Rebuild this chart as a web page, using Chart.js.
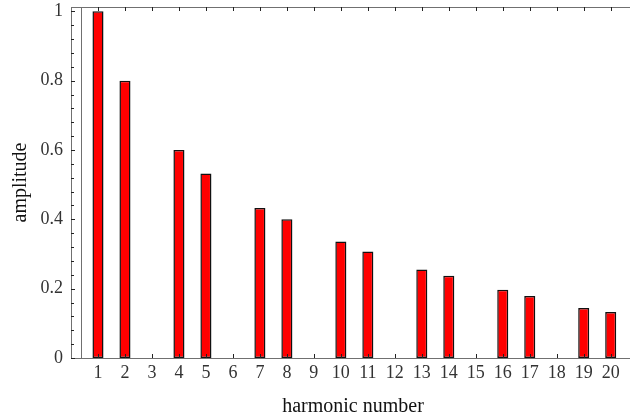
<!DOCTYPE html>
<html>
<head>
<meta charset="utf-8">
<script src="https://cdn.jsdelivr.net/npm/chart.js@4.4.0/dist/chart.umd.min.js"></script>
<style>
  html, body { margin: 0; padding: 0; background: #fff; overflow: hidden; }
  #wrap { width: 630px; height: 418px; overflow: hidden; }
</style>
</head>
<body>
<div id="wrap"><canvas id="myChart" width="640" height="418"></canvas></div>
<script>

/* =====================
  data
===================== */

var harmonics = [1, 2, 3, 4, 5, 6, 7, 8, 9, 10, 11, 12, 13, 14, 15, 16, 17, 18, 19, 20];
var amplitudes = [1, 0.8, 0, 0.6, 0.532, 0, 0.433, 0.4, 0, 0.336, 0.307, 0, 0.255, 0.237, 0, 0.197, 0.179, 0, 0.144, 0.133];
var yTicks = [0, 0.2, 0.4, 0.6, 0.8, 1];
var yMinorStep = 0.04;

var serif = '"Liberation Serif", "Times New Roman", serif';

/* =====================
  frame + tick marks (mathematica style)
===================== */

var framePlugin = {
	id: 'frame',
	afterDatasetsDraw: function(chart) {
		var ctx = chart.ctx;
		var a = chart.chartArea;
		var xs = chart.scales.x;
		var ys = chart.scales.y;

		ctx.save();
		ctx.lineWidth = 1;
		ctx.strokeStyle = '#707070';
		ctx.strokeRect(Math.round(a.left) + 0.5, Math.round(a.top) + 0.5,
			Math.round(a.right - a.left), Math.round(a.bottom - a.top));

		// inner axis line near the left side
		var ax = Math.round(xs.getPixelForValue(0.36)) + 0.5;
		ctx.beginPath();
		ctx.moveTo(ax, a.top);
		ctx.lineTo(ax, a.bottom);
		ctx.stroke();

		ctx.strokeStyle = '#222';
		ctx.beginPath();
		// bottom + top ticks
		harmonics.forEach(function(h) {
			var px = Math.round(xs.getPixelForValue(h)) + 0.5;
			ctx.moveTo(px, a.bottom);
			ctx.lineTo(px, a.bottom - 4);
			ctx.moveTo(px, a.top);
			ctx.lineTo(px, a.top + 4);
		});
		// left ticks, major and minor
		var n = Math.round(yTicks[yTicks.length - 1] / yMinorStep);
		for (var i = 0; i <= n; i++) {
			var v = i * yMinorStep;
			var py = Math.round(ys.getPixelForValue(v)) + 0.5;
			var len = (i % 5 === 0) ? 4 : 3;
			ctx.moveTo(a.left, py);
			ctx.lineTo(a.left + len, py);
		}
		ctx.stroke();
		ctx.restore();
	}
};

/* =====================
  chart
===================== */

var config = {
	type: 'bar',
	data: {
		datasets: [{
			label: 'amplitude',
			data: harmonics.map(function(h, i) { return { x: h, y: amplitudes[i] }; }),
			backgroundColor: '#ff0000',
			borderColor: '#111111',
			borderWidth: 1.5,
			borderSkipped: false,
			barPercentage: 0.41,
			categoryPercentage: 1
		}]
	},
	options: {
		responsive: false,
		animation: false,
		layout: {
			padding: { top: 7, right: 5, left: 0, bottom: 0 }
		},
		plugins: {
			legend: { display: false },
			tooltip: { enabled: false }
		},
		scales: {
			x: {
				type: 'linear',
				offset: false,
				min: 0,
				max: 20.9,
				grid: { display: false, drawTicks: false, offset: false },
				border: { display: false },
				afterBuildTicks: function(scale) {
					scale.ticks = harmonics.map(function(h) { return { value: h }; });
				},
				afterFit: function(scale) {
					scale.height = 60;
					scale.paddingLeft = 0;
					scale.paddingRight = 0;
				},
				ticks: {
					autoSkip: false,
					maxRotation: 0,
					padding: 4,
					color: '#333',
					font: { family: serif, size: 18 },
					callback: function(v) { return String(v); }
				},
				title: {
					display: true,
					text: 'harmonic number',
					color: '#111',
					padding: { top: 0, bottom: 0 },
					font: { family: serif, size: 20, lineHeight: 1.1 }
				}
			},
			y: {
				min: 0,
				max: 1.0124,
				grid: { display: false, drawTicks: false },
				border: { display: false },
				afterBuildTicks: function(scale) {
					scale.ticks = yTicks.map(function(v) { return { value: v }; });
				},
				afterFit: function(scale) {
					scale.width = 71;
					scale.paddingTop = 0;
					scale.paddingBottom = 0;
				},
				ticks: {
					padding: 8,
					color: '#333',
					font: { family: serif, size: 18 },
					callback: function(v) { return String(v); }
				},
				title: {
					display: true,
					text: 'amplitude',
					color: '#111',
					padding: { top: 10, bottom: 0 },
					font: { family: serif, size: 20, lineHeight: 1.1 }
				}
			}
		}
	},
	plugins: [framePlugin]
};

var can = document.getElementById('myChart');
var ctx = can.getContext('2d');
var myChart = new Chart(ctx, config);

</script>
</body>
</html>
